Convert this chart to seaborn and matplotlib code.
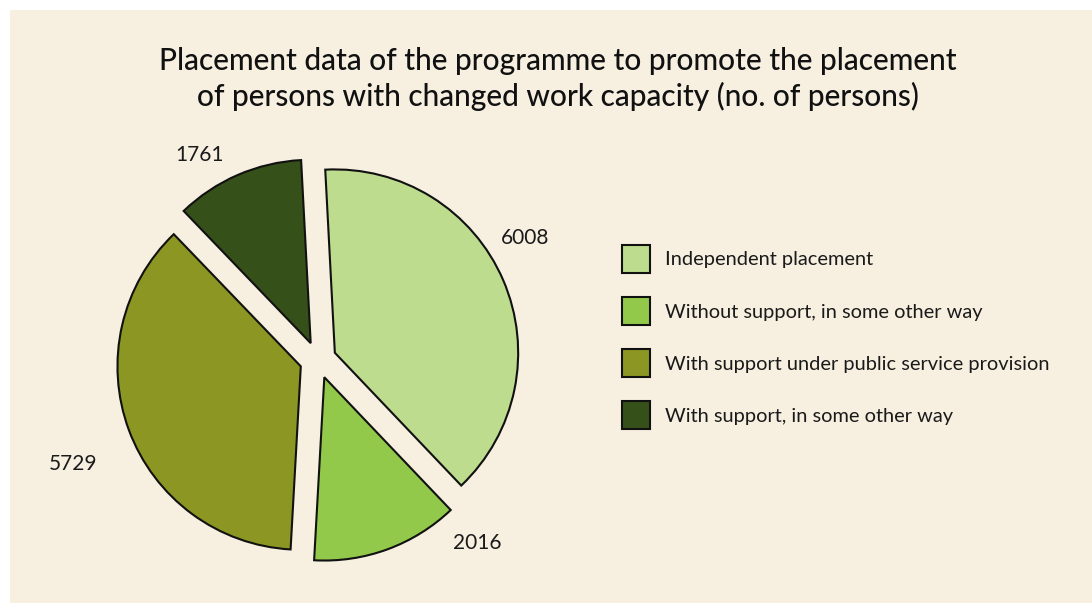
import matplotlib
matplotlib.use("Agg")
import matplotlib.pyplot as plt
from matplotlib.patches import Rectangle
import numpy as np
import seaborn as sns

# Placement data (no. of persons)
categories = [
    "Independent placement",
    "Without support, in some other way",
    "With support under public service provision",
    "With support, in some other way",
]
persons = [6008, 2016, 5729, 1761]
title = ("Placement data of the programme to promote the placement\n"
         "of persons with changed work capacity (no. of persons)")

# Styling
colors = ["#bddc8e", "#93c94a", "#8c9622", "#36501a"]
background = "#f7f0e1"
label_angles = [30.5, -49.0, 203.0, 120.0]      # degrees, where value labels sit
label_radius = [1.31, 1.32, 1.45, 1.29]

sns.set_theme(style="white")
plt.rcParams["font.family"] = ["Lato", "DejaVu Sans"]

fig = plt.figure(figsize=(10.92, 6.03), dpi=100, facecolor="white")
fig.patches.append(Rectangle((10 / 1092, 0), 1, 1 - 10 / 603,
                             transform=fig.transFigure, facecolor=background,
                             edgecolor="none", zorder=-10))

ax = fig.add_axes([(318 - 220) / 1092, (603 - 360 - 220) / 603, 440 / 1092, 440 / 603])
ax.set_facecolor("none")

wedges, _ = ax.pie(
    persons,
    colors=sns.color_palette(colors),
    startangle=93,
    counterclock=False,
    explode=[0.1] * len(persons),
    radius=1.0,
    wedgeprops=dict(edgecolor="#111111", linewidth=1.5),
)
ax.set_xlim(-1.2, 1.2)
ax.set_ylim(-1.2, 1.2)
ax.set_aspect("equal")
ax.axis("off")

for value, ang, r in zip(persons, label_angles, label_radius):
    t = np.deg2rad(ang)
    ax.text(r * np.cos(t), r * np.sin(t), f"{value}", ha="center", va="center",
            fontsize=15, color="#1a1a1a", clip_on=False)

fig.text(0.511, 1 - 79 / 603, title, ha="center", va="center",
         fontsize=21.5, fontweight="medium", color="#111111", linespacing=1.25)

leg = fig.legend(
    wedges, categories,
    loc="upper left", bbox_to_anchor=(622 / 1092, 1 - 245 / 603),
    frameon=False, fontsize=14.4, handlelength=1.4, handleheight=1.78,
    labelspacing=1.2, handletextpad=0.75, borderpad=0, borderaxespad=0,
)
for txt in leg.get_texts():
    txt.set_color("#1a1a1a")

fig.savefig("out.png", dpi=100, facecolor="white")
